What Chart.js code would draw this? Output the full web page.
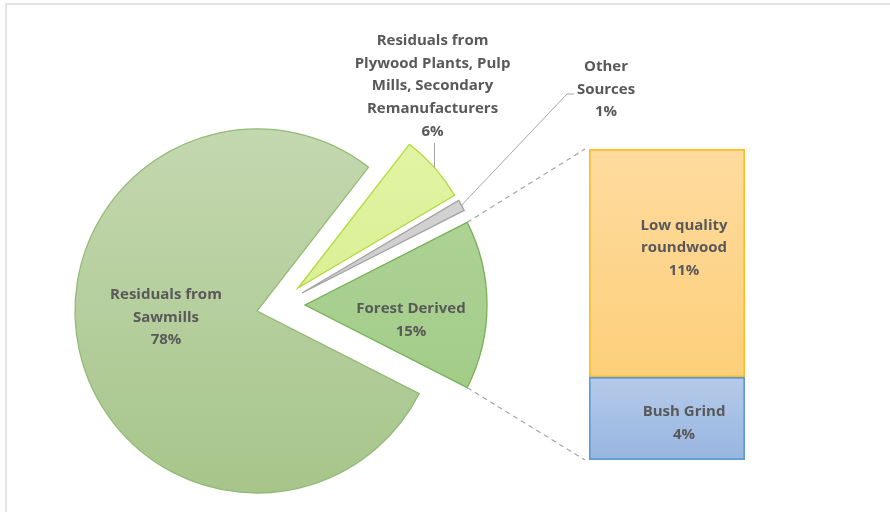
<!DOCTYPE html>
<html>
<head>
<meta charset="utf-8">
<script src="https://cdn.jsdelivr.net/npm/chart.js@4.4.1/dist/chart.umd.min.js"></script>
<style>
  html, body { margin: 0; padding: 0; background: #fff; }
  #wrap { position: relative; width: 890px; height: 512px; overflow: hidden; }
  #frame { position: absolute; left: 5px; top: 3px; width: 900px; height: 520px;
           border-top: 2px solid #e4e4e4; border-left: 2px solid #e4e4e4; }
  canvas { position: absolute; left: 0; top: 0; }
</style>
</head>
<body>
<div id="wrap">
  <div id="frame"></div>
  <canvas id="pieChart" width="890" height="512"></canvas>
  <canvas id="barChart" width="890" height="512"></canvas>
</div>
<script>
// pie: wood residue sources (%)
const pieLabels = [
  ['Residuals from', 'Sawmills'],
  ['Residuals from', 'Plywood Plants, Pulp', 'Mills, Secondary', 'Remanufacturers'],
  ['Other', 'Sources'],
  ['Forest Derived']
];
const pieValues = [78, 6, 1, 15];

// bar: breakdown of the forest derived share (%)
const barLabels = [['Bush Grind'], ['Low quality', 'roundwood']];
const barValues = [4, 11];

const FONT = 'bold 15px "Open Sans", Lato, sans-serif';
const TEXT = '#595959';
const LINE_H = 22.6;

// how far each slice is pulled away from the centre (dx, dy)
const sliceShift = [[0, 0], [41, -23], [45, -18], [48, -6]];
const pieFills = [['#c4d8af', '#a7c58b'], ['#e3f5a8', '#d2ea82'], ['#d8d8d8', '#c2c2c2'], ['#b2d69c', '#9dc881']];
const pieBorders = ['#93ba77', '#b2d93c', '#a3a3a3', '#78b057'];
const barFills = [['#b5caea', '#97b6df'], ['#fedb9f', '#fdcf7a']];
const barBorders = ['#5f9ad6', '#fbbf26'];

function drawLines(ctx, lines, x, y) {
  ctx.save();
  ctx.font = FONT;
  ctx.fillStyle = TEXT;
  ctx.textAlign = 'center';
  ctx.textBaseline = 'middle';
  lines.forEach((t, i) => ctx.fillText(t, x, y + i * LINE_H));
  ctx.restore();
}

function arcGeom(chart, i) {
  const arc = chart.getDatasetMeta(0).data[i];
  return {
    cx: arc.x + sliceShift[i][0],
    cy: arc.y + sliceShift[i][1],
    r: arc.outerRadius,
    start: arc.startAngle,
    end: arc.endAngle,
    mid: (arc.startAngle + arc.endAngle) / 2
  };
}

function onArc(g, a) {
  return { x: g.cx + Math.cos(a) * g.r, y: g.cy + Math.sin(a) * g.r };
}

// draws each slice moved by its own shift instead of the library's hover offset
const explodePlugin = {
  id: 'explode',
  beforeDatasetDraw(chart, args) {
    const ctx = chart.ctx;
    args.meta.data.forEach((arc, i) => {
      ctx.save();
      ctx.translate(sliceShift[i][0], sliceShift[i][1]);
      arc.draw(ctx, chart.chartArea);
      ctx.restore();
    });
    return false;
  }
};

const pieLabelPlugin = {
  id: 'pieLabels',
  afterDatasetsDraw(chart) {
    const ctx = chart.ctx;
    const txt = i => pieLabels[i].concat([pieValues[i] + '%']);

    // sawmills and forest derived sit inside their slices
    drawLines(ctx, txt(0), 166, 295);
    drawLines(ctx, txt(3), 411, 309);

    ctx.save();
    ctx.strokeStyle = '#a6a6a6';
    ctx.lineWidth = 1;

    // plywood: label above, short vertical leader
    const ply = arcGeom(chart, 1);
    const pp = onArc(ply, ply.mid);
    ctx.beginPath();
    ctx.moveTo(pp.x, pp.y);
    ctx.lineTo(pp.x, 143);
    ctx.stroke();
    drawLines(ctx, txt(1), pp.x - 2, 41);

    // other sources: elbow leader up to the right
    const oth = arcGeom(chart, 2);
    const op = onArc(oth, oth.mid);
    ctx.beginPath();
    ctx.moveTo(op.x, op.y);
    ctx.lineTo(567, 94);
    ctx.lineTo(574, 94);
    ctx.stroke();
    ctx.restore();
    drawLines(ctx, txt(2), 606, 67);
  }
};

const pieChart = new Chart(document.getElementById('pieChart'), {
  type: 'pie',
  data: {
    labels: pieLabels.map(l => l.join(' ')),
    datasets: [{
      data: pieValues,
      backgroundColor: ctx => {
        const area = ctx.chart.chartArea;
        const c = pieFills[ctx.dataIndex];
        if (!area) return c[0];
        const cy = (area.top + area.bottom) / 2;
        const g = ctx.chart.ctx.createLinearGradient(0, cy - 182, 0, cy + 182);
        g.addColorStop(0, c[0]);
        g.addColorStop(1, c[1]);
        return g;
      },
      borderColor: pieBorders,
      borderWidth: 1.3,
      borderJoinStyle: 'miter'
    }]
  },
  options: {
    responsive: false,
    animation: false,
    rotation: 117,
    radius: 182,
    layout: { padding: { left: 40, right: 416, top: 110, bottom: 0 } },
    plugins: { legend: { display: false }, tooltip: { enabled: false } }
  },
  plugins: [explodePlugin, pieLabelPlugin]
});

const barLabelPlugin = {
  id: 'barLabels',
  afterDatasetsDraw(chart) {
    const ctx = chart.ctx;
    const nudge = [4.5, -15];
    barValues.forEach((v, i) => {
      const el = chart.getDatasetMeta(i).data[0];
      const lines = barLabels[i].concat([v + '%']);
      const mid = (el.y + el.base) / 2 + nudge[i];
      drawLines(ctx, lines, el.x + 17, mid - (lines.length - 1) * LINE_H / 2);
    });

    // dashed connectors from the forest derived slice to the stack
    const g = arcGeom(pieChart, 3);
    const a = onArc(g, g.start);
    const b = onArc(g, g.end);
    const low = chart.getDatasetMeta(1).data[0];
    const bush = chart.getDatasetMeta(0).data[0];
    const left = low.x - low.width / 2 - 4;
    ctx.save();
    ctx.strokeStyle = '#a6a6a6';
    ctx.lineWidth = 1.2;
    ctx.setLineDash([5, 4]);
    ctx.beginPath();
    ctx.moveTo(a.x, a.y);
    ctx.lineTo(left, low.y);
    ctx.moveTo(b.x, b.y);
    ctx.lineTo(left, bush.base);
    ctx.stroke();
    ctx.restore();
  }
};

function barGradient(ctx) {
  const c = barFills[ctx.datasetIndex];
  const y = ctx.chart.scales.y;
  if (!y) return c[0];
  const top = y.getPixelForValue(barValues.slice(0, ctx.datasetIndex + 1).reduce((s, v) => s + v, 0));
  const bottom = y.getPixelForValue(barValues.slice(0, ctx.datasetIndex).reduce((s, v) => s + v, 0));
  if (!Number.isFinite(top) || !Number.isFinite(bottom)) return c[0];
  const g = ctx.chart.ctx.createLinearGradient(0, top, 0, bottom);
  g.addColorStop(0, c[0]);
  g.addColorStop(1, c[1]);
  return g;
}

new Chart(document.getElementById('barChart'), {
  type: 'bar',
  data: {
    labels: [''],
    datasets: barValues.map((v, i) => ({
      label: barLabels[i].join(' '),
      data: [v],
      backgroundColor: barGradient,
      borderColor: barBorders[i],
      borderWidth: 2,
      borderSkipped: false,
      barPercentage: 1,
      categoryPercentage: 1
    }))
  },
  options: {
    responsive: false,
    animation: false,
    layout: { padding: { left: 589, right: 145, top: 149, bottom: 52 } },
    scales: {
      x: { display: false, stacked: true },
      y: { display: false, stacked: true, min: 0, max: 15 }
    },
    plugins: { legend: { display: false }, tooltip: { enabled: false } }
  },
  plugins: [barLabelPlugin]
});
</script>
</body>
</html>
